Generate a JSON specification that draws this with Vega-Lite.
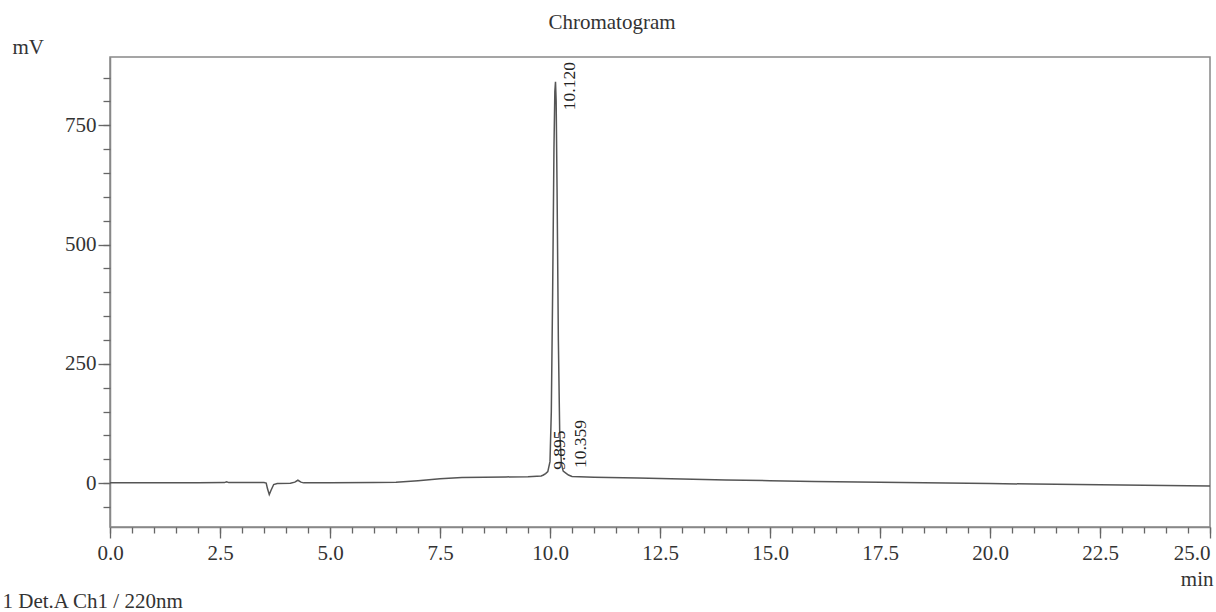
{
  "$schema": "https://vega.github.io/schema/vega-lite/v6.json",
  "width": 1100,
  "height": 470,
  "autosize": {"type": "none"},
  "padding": {"left": 110, "top": 57, "right": 6, "bottom": 85},
  "background": "white",
  "title": {
    "text": "Chromatogram",
    "anchor": "middle",
    "frame": "group",
    "dx": -48,
    "offset": -14,
    "baseline": "alphabetic",
    "font": "Liberation Serif",
    "fontSize": 21,
    "fontWeight": "normal",
    "color": "#333"
  },
  "config": {
    "font": "Liberation Serif",
    "view": {"stroke": "#888", "strokeWidth": 1.5},
    "axis": {
      "grid": false,
      "domainColor": "#888",
      "domainWidth": 1.5,
      "tickColor": "#666",
      "tickWidth": 1.3,
      "labelFont": "Liberation Serif",
      "labelFontSize": 21,
      "labelColor": "#333",
      "titleFont": "Liberation Serif",
      "titleFontSize": 21,
      "titleFontWeight": "normal",
      "titleColor": "#333"
    }
  },
  "datasets": {
    "trace": [
      {"t": 0, "mv": 0.5}, {"t": 1, "mv": 0.5}, {"t": 2, "mv": 0.8}, {"t": 2.6, "mv": 1},
      {"t": 2.65, "mv": 2.5}, {"t": 2.7, "mv": 1}, {"t": 3.5, "mv": 1}, {"t": 3.55, "mv": 0},
      {"t": 3.58, "mv": -12}, {"t": 3.62, "mv": -24}, {"t": 3.66, "mv": -15}, {"t": 3.72, "mv": -3},
      {"t": 3.8, "mv": -1}, {"t": 4.1, "mv": -0.5}, {"t": 4.2, "mv": 2}, {"t": 4.27, "mv": 6},
      {"t": 4.34, "mv": 2}, {"t": 4.4, "mv": 0.5}, {"t": 5, "mv": 0.5}, {"t": 6, "mv": 1},
      {"t": 6.5, "mv": 2}, {"t": 7, "mv": 5}, {"t": 7.5, "mv": 9}, {"t": 8, "mv": 11.5},
      {"t": 8.5, "mv": 12.5}, {"t": 9, "mv": 13}, {"t": 9.5, "mv": 13.5}, {"t": 9.8, "mv": 15},
      {"t": 9.85, "mv": 17}, {"t": 9.9, "mv": 20}, {"t": 9.95, "mv": 24}, {"t": 10.0, "mv": 45},
      {"t": 10.03, "mv": 150}, {"t": 10.06, "mv": 400}, {"t": 10.09, "mv": 700}, {"t": 10.11, "mv": 820},
      {"t": 10.125, "mv": 841}, {"t": 10.14, "mv": 800}, {"t": 10.16, "mv": 620}, {"t": 10.19, "mv": 300},
      {"t": 10.22, "mv": 110}, {"t": 10.26, "mv": 40}, {"t": 10.3, "mv": 25}, {"t": 10.36, "mv": 21},
      {"t": 10.42, "mv": 17}, {"t": 10.5, "mv": 14}, {"t": 11, "mv": 12.5}, {"t": 12, "mv": 10.5},
      {"t": 13, "mv": 8.5}, {"t": 14, "mv": 6.5}, {"t": 15, "mv": 5}, {"t": 16, "mv": 3.5},
      {"t": 17, "mv": 2.5}, {"t": 18, "mv": 1}, {"t": 19, "mv": 0}, {"t": 20, "mv": -1},
      {"t": 21, "mv": -2}, {"t": 22, "mv": -3}, {"t": 23, "mv": -4}, {"t": 24, "mv": -5},
      {"t": 25, "mv": -6}
    ],
    "peaks": [
      {"rt": 10.12, "label": "10.120", "mv": 832},
      {"rt": 9.895, "label": "9.895", "mv": 69},
      {"rt": 10.359, "label": "10.359", "mv": 82}
    ]
  },
  "layer": [
    {
      "data": {"name": "trace"},
      "mark": {"type": "line", "color": "#555", "strokeWidth": 1.5, "interpolate": "linear"},
      "encoding": {
        "x": {
          "field": "t", "type": "quantitative",
          "scale": {"domain": [0, 25], "nice": false, "zero": false},
          "axis": {
            "orient": "bottom",
            "values": [0, 2.5, 5, 7.5, 10, 12.5, 15, 17.5, 20, 22.5, 25],
            "format": ".1f",
            "tickSize": 11,
            "labelPadding": 4,
            "labelAlign": {"expr": "datum.value >= 25 ? 'right' : 'center'"},
            "labelFlush": false,
            "labelOverlap": false,
            "title": "min",
            "titleAnchor": "end",
            "titleAlign": "right",
            "titleBaseline": "alphabetic",
            "titleX": 1103,
            "titleY": 58
          }
        },
        "y": {
          "field": "mv", "type": "quantitative",
          "scale": {"domain": [-92, 893], "nice": false, "zero": false},
          "axis": {
            "orient": "left",
            "values": [0, 250, 500, 750],
            "tickSize": 12,
            "labelPadding": 2,
            "labelBaseline": "middle",
            "labelOverlap": false,
            "title": "mV",
            "titleAngle": 0,
            "titleAlign": "left",
            "titleBaseline": "alphabetic",
            "titleX": -98,
            "titleY": -4
          }
        }
      }
    },
    {
      "data": {"name": "peaks"},
      "mark": {
        "type": "text",
        "angle": 270,
        "align": "center",
        "baseline": "middle",
        "dy": 15,
        "font": "Liberation Serif",
        "fontSize": 17.5,
        "color": "#222"
      },
      "encoding": {
        "x": {
          "field": "rt", "type": "quantitative",
          "axis": {
            "orient": "bottom",
            "values": [0, 0.5, 1, 1.5, 2, 2.5, 3, 3.5, 4, 4.5, 5, 5.5, 6, 6.5, 7, 7.5, 8, 8.5, 9, 9.5, 10, 10.5, 11, 11.5, 12, 12.5, 13, 13.5, 14, 14.5, 15, 15.5, 16, 16.5, 17, 17.5, 18, 18.5, 19, 19.5, 20, 20.5, 21, 21.5, 22, 22.5, 23, 23.5, 24, 24.5, 25],
            "tickSize": 6,
            "labels": false,
            "domain": false,
            "title": "1 Det.A Ch1 / 220nm",
            "titleAnchor": "start",
            "titleAlign": "left",
            "titleBaseline": "alphabetic",
            "titleX": -108,
            "titleY": 80
          }
        },
        "y": {
          "field": "mv", "type": "quantitative",
          "axis": {
            "orient": "left",
            "values": [-50, 0, 50, 100, 150, 200, 250, 300, 350, 400, 450, 500, 550, 600, 650, 700, 750, 800, 850],
            "tickSize": 7,
            "labels": false,
            "domain": false,
            "title": null
          }
        },
        "text": {"field": "label", "type": "nominal"}
      }
    }
  ],
  "resolve": {"axis": {"x": "independent", "y": "independent"}}
}
